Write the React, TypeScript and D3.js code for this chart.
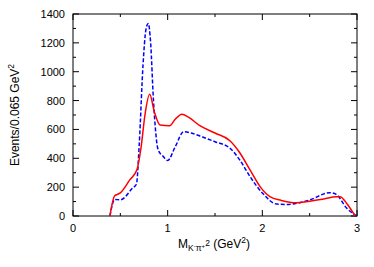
import React, { useEffect, useRef } from "react";
import * as d3 from "d3";

// solid red curve
const redX = [0.39, 0.44, 0.5, 0.6, 0.675, 0.72, 0.76, 0.81, 0.86, 0.92, 1.02, 1.08, 1.15, 1.22, 1.34, 1.5, 1.66, 1.76, 1.87, 1.98, 2.08, 2.2, 2.36, 2.5, 2.65, 2.78, 2.82, 2.9, 2.98];
const redY = [0, 140, 160, 250, 320, 480, 700, 843, 720, 630, 626, 670, 705, 685, 626, 575, 520, 440, 319, 200, 134, 108, 92, 103, 118, 134, 134, 80, 0];
// dashed blue curve
const blueX = [0.39, 0.44, 0.5, 0.63, 0.67, 0.7, 0.74, 0.77, 0.795, 0.82, 0.85, 0.9, 0.95, 1.0, 1.08, 1.17, 1.25, 1.34, 1.5, 1.66, 1.76, 1.87, 2.0, 2.15, 2.25, 2.5, 2.71, 2.78, 2.89, 3.0];
const blueY = [0, 115, 112, 194, 220, 500, 1050, 1290, 1335, 1200, 800, 457, 415, 385, 480, 584, 575, 554, 515, 469, 390, 273, 160, 83, 80, 111, 162, 150, 55, 0];

const xTicks = [0, 1, 2, 3];
const yTicks = [0, 200, 400, 600, 800, 1000, 1200, 1400];

export default function App() {
  const svgRef = useRef<SVGSVGElement>(null);

  useEffect(() => {
    const svg = d3.select(svgRef.current);
    svg.selectAll("*").remove();

    const left = 73, right = 357, top = 14, bottom = 216;
    const x = d3.scaleLinear().domain([0, 3]).range([left, right]);
    const y = d3.scaleLinear().domain([0, 1400]).range([bottom, top]);
    const font = "'Liberation Sans', Arial, sans-serif";

    const g = svg.append("g");

    // ticks on all sides, pointing inward
    const minorX = d3.range(0, 3.01, 0.5);
    const minorY = d3.range(0, 1401, 100);
    minorX.forEach((v) => {
      const len = xTicks.includes(v) ? 6 : 3;
      g.append("line").attr("x1", x(v)).attr("x2", x(v)).attr("y1", bottom).attr("y2", bottom - len).attr("stroke", "#000");
      g.append("line").attr("x1", x(v)).attr("x2", x(v)).attr("y1", top).attr("y2", top + len).attr("stroke", "#000");
    });
    minorY.forEach((v) => {
      const len = yTicks.includes(v) ? 6 : 3;
      g.append("line").attr("x1", left).attr("x2", left + len).attr("y1", y(v)).attr("y2", y(v)).attr("stroke", "#000");
      g.append("line").attr("x1", right).attr("x2", right - len).attr("y1", y(v)).attr("y2", y(v)).attr("stroke", "#000");
    });

    g.append("rect")
      .attr("x", left).attr("y", top)
      .attr("width", right - left).attr("height", bottom - top)
      .attr("fill", "none").attr("stroke", "#000");

    g.selectAll(".xl").data(xTicks).enter().append("text")
      .attr("x", (d) => x(d)).attr("y", bottom + 16)
      .attr("text-anchor", "middle").attr("font-family", font).attr("font-size", 11)
      .text((d) => d);

    g.selectAll(".yl").data(yTicks).enter().append("text")
      .attr("x", left - 8).attr("y", (d) => y(d) + 4)
      .attr("text-anchor", "end").attr("font-family", font).attr("font-size", 11)
      .text((d) => d);

    // curves
    const line = d3.line<[number, number]>()
      .x((d) => x(d[0])).y((d) => y(d[1]))
      .curve(d3.curveMonotoneX);

    const red = redX.map((v, i) => [v, redY[i]] as [number, number]);
    const blue = blueX.map((v, i) => [v, blueY[i]] as [number, number]);

    g.append("path").datum(blue).attr("d", line)
      .attr("fill", "none").attr("stroke", "#0000ff").attr("stroke-width", 1.5)
      .attr("stroke-dasharray", "4,2");
    g.append("path").datum(red).attr("d", line)
      .attr("fill", "none").attr("stroke", "#ff0000").attr("stroke-width", 1.5);

    // axis titles
    const yt = g.append("text")
      .attr("transform", `translate(19, ${(top + bottom) / 2}) rotate(-90)`)
      .attr("text-anchor", "middle").attr("font-family", font).attr("font-size", 12);
    yt.append("tspan").text("Events/0.065 GeV");
    yt.append("tspan").attr("dy", -5).attr("font-size", 8.5).text("2");

    const xt = g.append("text")
      .attr("x", 214).attr("y", 248)
      .attr("text-anchor", "middle")
      .attr("font-family", font).attr("font-size", 12);
    xt.append("tspan").text("M");
    xt.append("tspan").attr("dy", 3).attr("font-size", 8.5).text("K");
    xt.append("tspan").attr("dy", -3).attr("font-size", 6).text("-");
    xt.append("tspan").attr("dy", 3).attr("font-size", 8.5).text("π");
    xt.append("tspan").attr("dy", -3).attr("font-size", 6).text("+");
    xt.append("tspan").attr("dy", -2).attr("font-size", 8.5).text("2");
    xt.append("tspan").attr("dy", 2).text(" (GeV");
    xt.append("tspan").attr("dy", -5).attr("font-size", 8.5).text("2");
    xt.append("tspan").attr("dy", 5).text(")");
  }, []);

  return (
    <svg ref={svgRef} width={374} height={267}
      style={{ position: "absolute", left: 0, top: 0, background: "#fff" }} />
  );
}
